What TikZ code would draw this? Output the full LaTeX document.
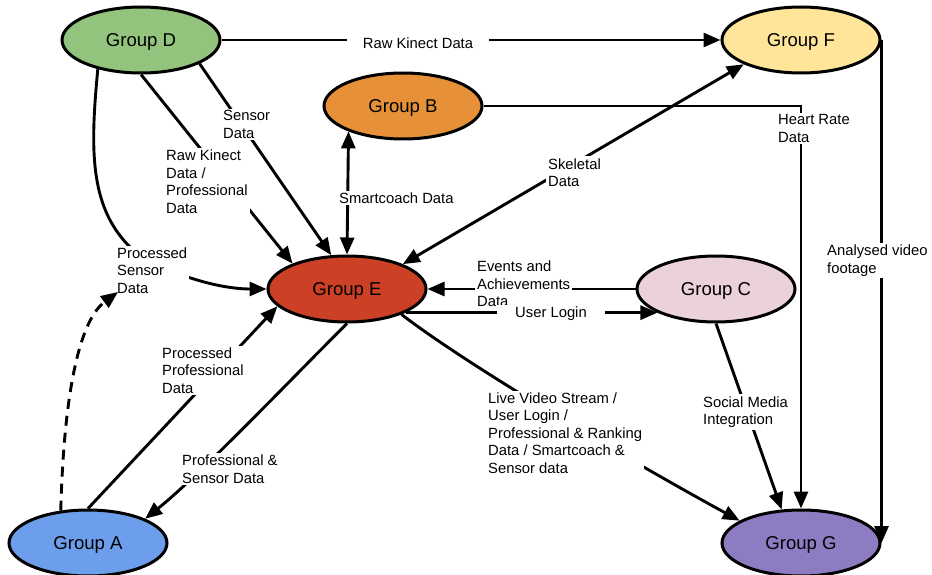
\documentclass[tikz,border=0pt]{standalone}
\usepackage{fontspec}
\setmainfont{Liberation Sans}
\usetikzlibrary{arrows.meta,shapes.geometric}
\definecolor{cD}{HTML}{93C47D}
\definecolor{cB}{HTML}{E69138}
\definecolor{cF}{HTML}{FFE599}
\definecolor{cE}{HTML}{CC4125}
\definecolor{cC}{HTML}{EAD1DC}
\definecolor{cA}{HTML}{6D9EEB}
\definecolor{cG}{HTML}{8E7CC3}
\begin{document}
\begin{tikzpicture}[x=1pt,y=-1pt,
  grp/.style={ellipse,draw,line width=3pt,minimum width=158pt,minimum height=66pt,inner sep=0pt,text height=13.4pt,text depth=0pt,font=\fontsize{18.6}{22}\selectfont},
  lbl/.style={fill=white,inner sep=2pt,align=left,anchor=west,font=\fontsize{14.8}{17.5}\selectfont},
  con/.style={line width=2.9pt},
  arr/.style={con,-{Triangle[length=17pt,width=14pt]}},
  barr/.style={con,{Triangle[length=17pt,width=14pt]}-{Triangle[length=17pt,width=14pt]}},
  dsh/.style={arr,dash pattern=on 10pt off 7pt}
]
\useasboundingbox (0,0) rectangle (932,575);
% groups
\node[grp,fill=cD] (D) at (141,40) {Group D};
\node[grp,fill=cB] (B) at (403,106) {Group B};
\node[grp,fill=cF] (F) at (801,40) {Group F};
\node[grp,fill=cE] (E) at (347,289) {Group E};
\node[grp,fill=cC] (C) at (716,289) {Group C};
\node[grp,fill=cA] (A) at (88,543) {Group A};
\node[grp,fill=cG] (G) at (801,543) {Group G};
% connectors
\draw[arr] (D.east) -- (F.west);
\draw[arr] (D.-22.8) -- (E.115);
\draw[arr] (D.south) -- (E.155);
\draw[arr] (D.214) .. controls (90,150) and (90,205) .. (128,245) .. controls (148,266) and (210,289) .. (E.west);
\draw[barr] (B.205) -- (E.north);
\draw[arr] (B.east) -| (G.north);
\draw[arr] (F.east) -- (G.east);
\draw[barr] (E.24) -- (F.203);
\draw[arr] (C.west) -- (E.east);
\draw[arr] (E.-22) -- (C.202);
\draw[arr] (E.-25) .. controls (475,371) and (652,473) .. (G.160);
\draw[arr] (C.south) -- (G.120);
\draw[arr] (A.north) -- (E.194);
\draw[arr] (E.south) .. controls (300,370) and (200,475) .. (A.23);
% labels
\node[lbl,anchor=center,inner xsep=16pt] (l1) at (418,43) {Raw Kinect Data};
\node[lbl] (l2) at (221,124.5) {Sensor\\Data};
\node[lbl] (l3) at (164,181.5) {Raw Kinect\\Data /\\Professional\\Data};
\node[lbl] (l4) at (115,270.5) {Processed\\Sensor\\Data};
\node[lbl] (l5) at (337,198) {Smartcoach Data};
\node[lbl] (l6) at (546,172.5) {Skeletal\\Data};
\node[lbl] (l7) at (776,128.5) {Heart Rate\\Data};
\node[lbl] (l8) at (825,260.5) {Analysed video\\footage};
\node[lbl] (l9) at (475,284) {Events and\\Achievements\\Data};
\node[lbl,anchor=center,inner xsep=18pt] (l10) at (551,314) {User Login};
\node[lbl] (l11) at (486,433) {Live Video Stream /\\User Login /\\Professional \& Ranking\\Data / Smartcoach \&\\Sensor data};
\node[lbl] (l12) at (701,412) {Social Media\\Integration};
\node[lbl] (l13) at (160,370.5) {Processed\\Professional\\Data};
\node[lbl] (l14) at (180,469) {Professional \&\\Sensor Data};
% dashed arrow to the label
\coordinate (psdtip) at (118,292);
\draw[dsh] (A.130) .. controls (64,390) and (80,320) .. (psdtip);
\end{tikzpicture}
\end{document}
